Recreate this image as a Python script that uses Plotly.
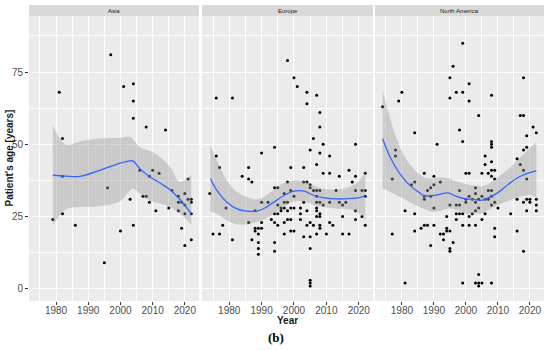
import plotly.graph_objects as go

# ---------------- data ----------------
regions = ["Asia", "Europe", "North America"]

asia_year = [1979, 1981, 1982, 1982, 1982, 1986, 1995, 1996, 1997, 2000, 2001, 2003,
             2004, 2004, 2004, 2004, 2006, 2007, 2008, 2008, 2009, 2009, 2010, 2011,
             2012, 2014, 2015, 2016, 2018, 2018, 2018, 2019, 2019, 2020, 2020, 2020,
             2020, 2021, 2021, 2022, 2022, 2022, 2022]
asia_age = [24, 68, 52, 39, 26, 22, 9, 35, 81, 20, 70, 31,
            71, 65, 59, 22, 41, 32, 32, 56, 30, 39, 41, 27,
            40, 55, 28, 34, 32, 30, 27, 21, 30, 33, 29, 26,
            15, 38, 31, 31, 30, 26, 17]

europe_year = [1974, 1975, 1976, 1976, 1977, 1977, 1978, 1979, 1981, 1981, 1984, 1986,
               1986, 1986, 1987, 1987, 1988, 1988, 1988, 1989, 1989, 1989, 1989, 1989,
               1990, 1990, 1990, 1990, 1992, 1993, 1994, 1994, 1994, 1994, 1994, 1994,
               1995, 1995, 1995, 1995, 1996, 1996, 1997, 1997, 1997, 1997, 1997, 1998,
               1998, 1998, 1998, 1998, 1999, 1999, 1999, 1999, 1999, 2000, 2000, 2000,
               2000, 2001, 2002, 2002, 2002, 2003, 2003, 2003, 2003, 2004, 2004, 2004,
               2004, 2004, 2005, 2005, 2005, 2005, 2005, 2005, 2005, 2005, 2005, 2006,
               2006, 2006, 2007, 2007, 2007, 2007, 2007, 2007, 2007, 2007, 2007, 2008,
               2008, 2008, 2008, 2008, 2008, 2008, 2008, 2008, 2009, 2009, 2009, 2010,
               2011, 2011, 2011, 2011, 2012, 2013, 2014, 2014, 2015, 2015, 2015, 2016,
               2017, 2017, 2018, 2019, 2019, 2019, 2019, 2019, 2021, 2021, 2022, 2022,
               2022, 2022]
europe_age = [33, 19, 46, 66, 42, 19, 22, 28, 66, 17, 39, 38,
              42, 23, 37, 17, 21, 20, 27, 21, 19, 16, 14, 12,
              21, 47, 30, 23, 30, 24, 49, 35, 26, 23, 16, 13,
              35, 29, 26, 22, 28, 27, 33, 30, 28, 23, 19, 79,
              37, 30, 27, 24, 42, 34, 28, 24, 20, 73, 32, 28,
              20, 70, 28, 26, 24, 42, 37, 30, 18, 68, 64, 37,
              27, 22, 48, 36, 35, 23, 18, 14, 3, 2, 1, 52,
              34, 22, 67, 43, 34, 32, 30, 28, 27, 25, 19, 61,
              56, 47, 34, 30, 26, 25, 22, 21, 50, 40, 29, 19,
              46, 40, 30, 23, 22, 34, 39, 30, 29, 25, 19, 30,
              41, 19, 37, 50, 39, 34, 27, 24, 34, 25, 40, 34,
              32, 22]

namerica_year = [1974, 1977, 1977, 1978, 1978, 1979, 1980, 1981, 1981, 1983, 1984, 1984,
                 1984, 1984, 1986, 1987, 1987, 1987, 1987, 1988, 1988, 1989, 1989, 1989,
                 1990, 1990, 1990, 1990, 1991, 1992, 1992, 1993, 1993, 1994, 1994, 1994,
                 1995, 1995, 1995, 1995, 1995, 1995, 1996, 1996, 1997, 1997, 1997, 1997,
                 1998, 1998, 1998, 1998, 1999, 1999, 1999, 1999, 1999, 1999, 2000, 2000,
                 2000, 2001, 2001, 2001, 2001, 2001, 2001, 2002, 2002, 2003, 2003, 2003,
                 2003, 2003, 2003, 2004, 2004, 2004, 2004, 2004, 2004, 2005, 2005, 2005,
                 2005, 2006, 2006, 2006, 2006, 2007, 2007, 2007, 2008, 2008, 2008, 2008,
                 2008, 2008, 2008, 2008, 2008, 2008, 2008, 2009, 2009, 2009, 2009, 2009,
                 2010, 2014, 2016, 2016, 2016, 2017, 2017, 2018, 2018, 2018, 2018, 2018,
                 2018, 2019, 2019, 2019, 2019, 2019, 2020, 2020, 2021, 2022, 2022, 2022,
                 2022]
namerica_age = [63, 19, 38, 48, 46, 65, 68, 27, 2, 36, 54, 37,
                26, 20, 21, 40, 32, 31, 22, 34, 22, 35, 32, 15,
                39, 36, 28, 22, 50, 37, 19, 19, 17, 25, 21, 20,
                73, 66, 29, 20, 14, 13, 77, 16, 68, 29, 26, 24,
                55, 34, 29, 26, 85, 68, 51, 26, 22, 2, 40, 31,
                30, 71, 65, 40, 32, 25, 22, 31, 26, 35, 33, 30,
                27, 22, 2, 60, 31, 28, 5, 2, 1, 2, 40, 32,
                24, 46, 43, 31, 26, 40, 34, 31, 67, 51, 50, 49,
                44, 41, 39, 34, 32, 29, 2, 41, 38, 30, 21, 18,
                28, 26, 45, 31, 20, 43, 60, 60, 73, 48, 41, 30,
                13, 53, 49, 38, 31, 27, 31, 30, 56, 54, 31, 29,
                27]

# smooth (loess) fit and confidence band
asia_fit_year = [1979, 1983, 1987.4, 1993.6, 1999.9, 2003, 2004, 2006, 2009.2, 2012.3, 2015.4, 2018.5, 2022]
asia_fit = [39.3, 39.0, 38.9, 41.0, 43.5, 44.3, 44.2, 41.6, 38.7, 36.6, 34.3, 30.9, 26.0]
asia_upper = [56.6, 50.0, 51.0, 52.0, 52.3, 52.5, 51.6, 49.0, 47.7, 45.6, 42.2, 37.0, 39.5]
asia_lower = [21.8, 27.5, 28.3, 28.6, 30.3, 34.1, 34.6, 33.0, 30.6, 29.5, 28.3, 26.0, 22.3]

europe_fit_year = [1974.2, 1976.2, 1979.3, 1982.4, 1985.5, 1988.6, 1990.6, 1993.8, 1996.9, 2000, 2003.1,
                   2006.2, 2009.3, 2013.4, 2017.6, 2020.2, 2022]
europe_fit = [38.1, 34.1, 30.0, 27.7, 26.9, 26.9, 27.7, 30.0, 32.3, 33.8, 33.8,
              32.3, 31.5, 31.1, 31.3, 31.6, 32.2]
europe_upper = [49.4, 44.5, 37.5, 33.5, 31.8, 30.9, 31.8, 34.3, 36.6, 37.5, 37.2,
                35.7, 34.6, 34.3, 35.5, 37.5, 40.4]
europe_lower = [26.7, 26.0, 23.7, 22.3, 22.3, 23.2, 23.9, 26.0, 28.3, 30.2, 30.2,
                29.0, 28.3, 27.7, 27.4, 26.0, 23.9]

namerica_fit_year = [1974, 1976.3, 1979.4, 1982.5, 1985.6, 1987.1, 1989.7, 1991.8, 1994.4, 1997, 2000.1,
                     2003.2, 2004.7, 2006.8, 2009.9, 2013.5, 2016.6, 2019.7, 2022]
namerica_fit = [51.9, 45.6, 39.8, 35.8, 33.2, 32.2, 32.3, 32.7, 33.2, 32.0, 31.1,
                30.9, 30.6, 31.4, 33.2, 36.4, 38.7, 40.1, 40.8]
namerica_upper = [68.7, 59.0, 49.0, 43.0, 39.5, 38.5, 38.1, 38.5, 38.3, 37.2, 36.2,
                  35.6, 35.5, 36.2, 38.5, 41.6, 45.0, 48.5, 50.8]
namerica_lower = [34.7, 33.5, 31.8, 30.0, 28.3, 27.5, 26.6, 26.9, 27.8, 27.4, 26.0,
                  26.0, 26.0, 27.2, 28.9, 30.6, 31.8, 32.5, 31.8]

y_ticks = [0, 25, 50, 75]
x_ticks = [1980, 1990, 2000, 2010, 2020]

panels = [
    (asia_year, asia_age, asia_fit_year, asia_fit, asia_lower, asia_upper),
    (europe_year, europe_age, europe_fit_year, europe_fit, europe_lower, europe_upper),
    (namerica_year, namerica_age, namerica_fit_year, namerica_fit, namerica_lower, namerica_upper),
]

# ---------------- layout geometry ----------------
W, H = 550, 350
ML, MR, MT, MB = 29, 6, 5, 49
pw = W - ML - MR
ph = H - MT - MB
panel_px = [(29, 199), (202, 373), (375, 544)]
domains = [[(a - ML) / pw, (b - ML) / pw] for a, b in panel_px]
plot_top = (301 - 16) / ph

fig = go.Figure()
for i, (yr, age, fy, fit, lo, up) in enumerate(panels):
    xa = "x" if i == 0 else f"x{i+1}"
    ya = "y" if i == 0 else f"y{i+1}"
    fig.add_trace(go.Scatter(x=yr, y=age, mode="markers", xaxis=xa, yaxis=ya,
                             marker=dict(color="black", size=3, line=dict(width=0)),
                             showlegend=False, hoverinfo="skip"))
    fig.add_trace(go.Scatter(x=fy, y=lo, mode="lines", xaxis=xa, yaxis=ya,
                             line=dict(width=0, shape="spline", smoothing=1.0),
                             showlegend=False, hoverinfo="skip"))
    fig.add_trace(go.Scatter(x=fy, y=up, mode="lines", xaxis=xa, yaxis=ya,
                             line=dict(width=0, shape="spline", smoothing=1.0),
                             fill="tonexty", fillcolor="rgba(153,153,153,0.4)",
                             showlegend=False, hoverinfo="skip"))
    fig.add_trace(go.Scatter(x=fy, y=fit, mode="lines", xaxis=xa, yaxis=ya,
                             line=dict(color="#3366FF", width=1.3, shape="spline", smoothing=1.0),
                             showlegend=False, hoverinfo="skip"))

axis_common = dict(showline=False, zeroline=False, gridcolor="white", gridwidth=1,
                   ticks="outside", ticklen=3, tickcolor="#333333", tickwidth=1,
                   tickfont=dict(family="Liberation Sans, Arial, sans-serif", size=10, color="#4d4d4d"))

layout = dict(
    width=W, height=H, margin=dict(l=ML, r=MR, t=MT, b=MB),
    paper_bgcolor="white", plot_bgcolor="#ebebeb", showlegend=False,
)
for i in range(3):
    xk = "xaxis" if i == 0 else f"xaxis{i+1}"
    yk = "yaxis" if i == 0 else f"yaxis{i+1}"
    xa = "x" if i == 0 else f"x{i+1}"
    layout[xk] = dict(domain=domains[i], range=[1971.6, 2024.4], tickvals=x_ticks,
                      anchor="y" if i == 0 else f"y{i+1}", ticklabelstandoff=-3,
                      minor=dict(dtick=5, tick0=1975, showgrid=True, gridcolor="white", gridwidth=0.5, ticks=""),
                      **axis_common)
    layout[yk] = dict(domain=[0, plot_top], range=[-4.2, 94.4], tickvals=y_ticks,
                      anchor=xa, showticklabels=(i == 0),
                      minor=dict(dtick=12.5, tick0=0, showgrid=True, gridcolor="white", gridwidth=0.5, ticks=""),
                      **axis_common)
    if i > 0:
        layout[yk]["ticks"] = ""
        layout[yk]["matches"] = "y"
fig.update_layout(**layout)

shapes = []
annotations = []
for i, name in enumerate(regions):
    shapes.append(dict(type="rect", xref="paper", yref="paper",
                       x0=domains[i][0], x1=domains[i][1], y0=plot_top, y1=1.0,
                       fillcolor="#d9d9d9", line=dict(width=0), layer="below"))
    annotations.append(dict(text=name, xref="paper", yref="paper",
                            x=(domains[i][0] + domains[i][1]) / 2, y=(plot_top + 1.0) / 2,
                            xanchor="center", yanchor="middle", showarrow=False,
                            font=dict(family="Liberation Sans, Arial, sans-serif", size=6, color="#1a1a1a")))

annotations.append(dict(text="<b>Year</b>", xref="paper", yref="paper",
                        x=(287 - ML) / pw, y=(301 - 320) / ph, xanchor="center", yanchor="middle",
                        showarrow=False,
                        font=dict(family="Liberation Sans, Arial, sans-serif", size=10, color="#1a1a1a")))
annotations.append(dict(text="<b>Patient's age [years]</b>", xref="paper", yref="paper",
                        x=(9 - ML) / pw, y=(301 - 158.5) / ph, xanchor="center", yanchor="middle",
                        textangle=-90, showarrow=False,
                        font=dict(family="Liberation Sans, Arial, sans-serif", size=10, color="#1a1a1a")))
annotations.append(dict(text="<b>(b)</b>", xref="paper", yref="paper",
                        x=(276 - ML) / pw, y=(301 - 337) / ph, xanchor="center", yanchor="middle",
                        showarrow=False,
                        font=dict(family="Liberation Serif, Times New Roman, serif", size=13, color="black")))
fig.update_layout(shapes=shapes, annotations=annotations)

fig.write_html("out.html", config={"displayModeBar": False},
               post_script="document.body.style.margin='0px';document.body.style.padding='0px';")
